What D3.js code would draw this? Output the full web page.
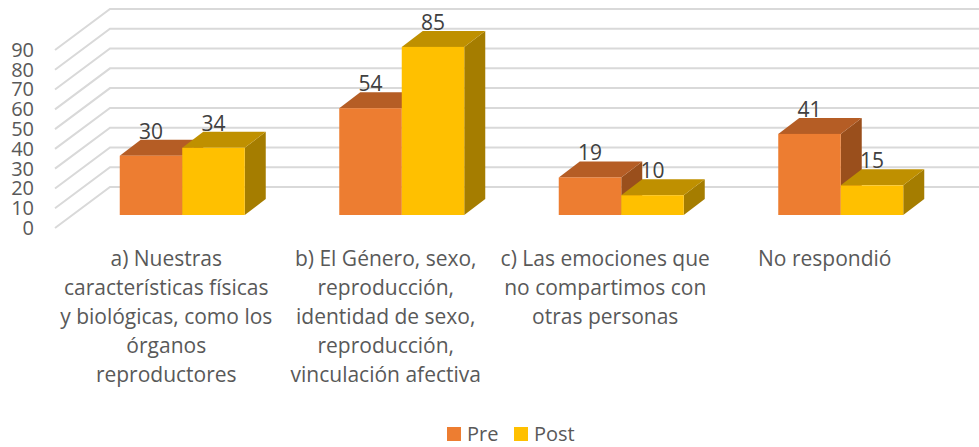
<!DOCTYPE html>
<html>
  <head>
    <meta charset="utf-8">
    <title>Pre / Post</title>
    <script src="https://cdn.jsdelivr.net/npm/d3@7"></script>
    <style>
      html, body { margin: 0; background: #fff; }
      svg { display: block; }
      text { font-family: "Open Sans", sans-serif; }
    </style>
  </head>

  <body>
    <div id="chart"></div>

    <script>
      // data
      const categories = [
        ["a) Nuestras", "características físicas", "y biológicas, como los", "órganos", "reproductores"],
        ["b) El Género, sexo,", "reproducción,", "identidad de sexo,", "reproducción,", "vinculación afectiva"],
        ["c) Las emociones que", "no compartimos con", "otras personas"],
        ["No respondió"]
      ];
      const pre = [30, 54, 19, 41];
      const post = [34, 85, 10, 15];
      const seriesNames = ["Pre", "Post"];
      const yTicks = [0, 10, 20, 30, 40, 50, 60, 70, 80, 90];

      const width = 979, height = 447;
      const colours = {
        Pre: { front: "#ED7D31", top: "#B55D25", side: "#9A4F1C" },
        Post: { front: "#FFC000", top: "#BF9000", side: "#A57D00" }
      };

      // oblique projection offsets
      const barDx = 21, barDy = -16;

      const x = d3.scaleBand().domain(d3.range(categories.length)).range([72.5, 950.5]);
      const xSeries = d3.scaleBand().domain(seriesNames).range([-62.5, 62.5]);
      const yBar = d3.scaleLinear().domain([0, 90]).range([215, 37]);
      const yFloor = d3.scaleLinear().domain([0, 90]).range([228, 50]);
      const yWall = d3.scaleLinear().domain([0, 90]).range([187, 9]);

      const svg = d3.select("#chart").append("svg")
        .attr("width", width)
        .attr("height", height);

      // gridlines: side wall then back wall
      svg.append("g")
        .selectAll("path")
        .data(yTicks)
        .join("path")
          .attr("d", d => `M55,${yFloor(d)}L110,${yWall(d)}H${width}`)
          .attr("fill", "none")
          .attr("stroke", "#D9D9D9")
          .attr("stroke-width", 2);

      // y axis
      const yAxis = svg.append("g")
        .attr("transform", "translate(34,0)")
        .call(d3.axisLeft(yFloor).tickValues(yTicks).tickSize(0).tickPadding(0));
      yAxis.select(".domain").remove();
      yAxis.selectAll("text")
        .attr("fill", "#595959")
        .style("font-family", '"Open Sans", sans-serif')
        .style("font-size", "20px");

      // bars
      const series = [
        { name: "Pre", values: pre },
        { name: "Post", values: post }
      ];

      const bars = svg.append("g");
      categories.forEach(function(c, i) {
        const cx = x(i) + x.bandwidth() / 2;
        series.forEach(function(s) {
          const x0 = cx + xSeries(s.name);
          const x1 = x0 + xSeries.bandwidth();
          const y0 = yBar(0);
          const y1 = yBar(s.values[i]);
          const col = colours[s.name];
          const g = bars.append("g");
          g.append("path")
            .attr("d", `M${x1},${y1}L${x1 + barDx},${y1 + barDy}V${y0 + barDy}L${x1},${y0}Z`)
            .attr("fill", col.side);
          g.append("path")
            .attr("d", `M${x0},${y1}L${x0 + barDx},${y1 + barDy}H${x1 + barDx}L${x1},${y1}Z`)
            .attr("fill", col.top);
          g.append("rect")
            .attr("x", x0)
            .attr("y", y1)
            .attr("width", x1 - x0)
            .attr("height", y0 - y1)
            .attr("fill", col.front);
        });
      });

      // data labels
      categories.forEach(function(c, i) {
        const cx = x(i) + x.bandwidth() / 2;
        series.forEach(function(s) {
          svg.append("text")
            .attr("x", cx + xSeries(s.name) + xSeries.bandwidth() / 2)
            .attr("y", yBar(s.values[i]) + barDy - 1)
            .attr("text-anchor", "middle")
            .attr("fill", "#404040")
            .style("font-size", "21px")
            .text(s.values[i]);
        });
      });

      // category labels
      svg.append("g")
        .selectAll("text")
        .data(categories)
        .join("text")
          .attr("text-anchor", "middle")
          .attr("fill", "#595959")
          .style("font-size", "21px")
          .each(function(lines, i) {
            d3.select(this).selectAll("tspan")
              .data(lines)
              .join("tspan")
                .attr("x", x(i) + x.bandwidth() / 2 - 16)
                .attr("y", (d, j) => 266 + j * 29)
                .text(d => d);
          });

      // legend
      const legendX = d3.scaleOrdinal().domain(seriesNames).range([447, 514]);
      const legend = svg.append("g")
        .selectAll("g")
        .data(seriesNames)
        .join("g")
          .attr("transform", d => `translate(${legendX(d)},427)`);
      legend.append("rect")
        .attr("width", 14)
        .attr("height", 14)
        .attr("fill", d => colours[d].front);
      legend.append("text")
        .attr("x", 20)
        .attr("y", 14)
        .attr("fill", "#595959")
        .style("font-size", "20px")
        .text(d => d);
    </script>
  </body>
</html>
